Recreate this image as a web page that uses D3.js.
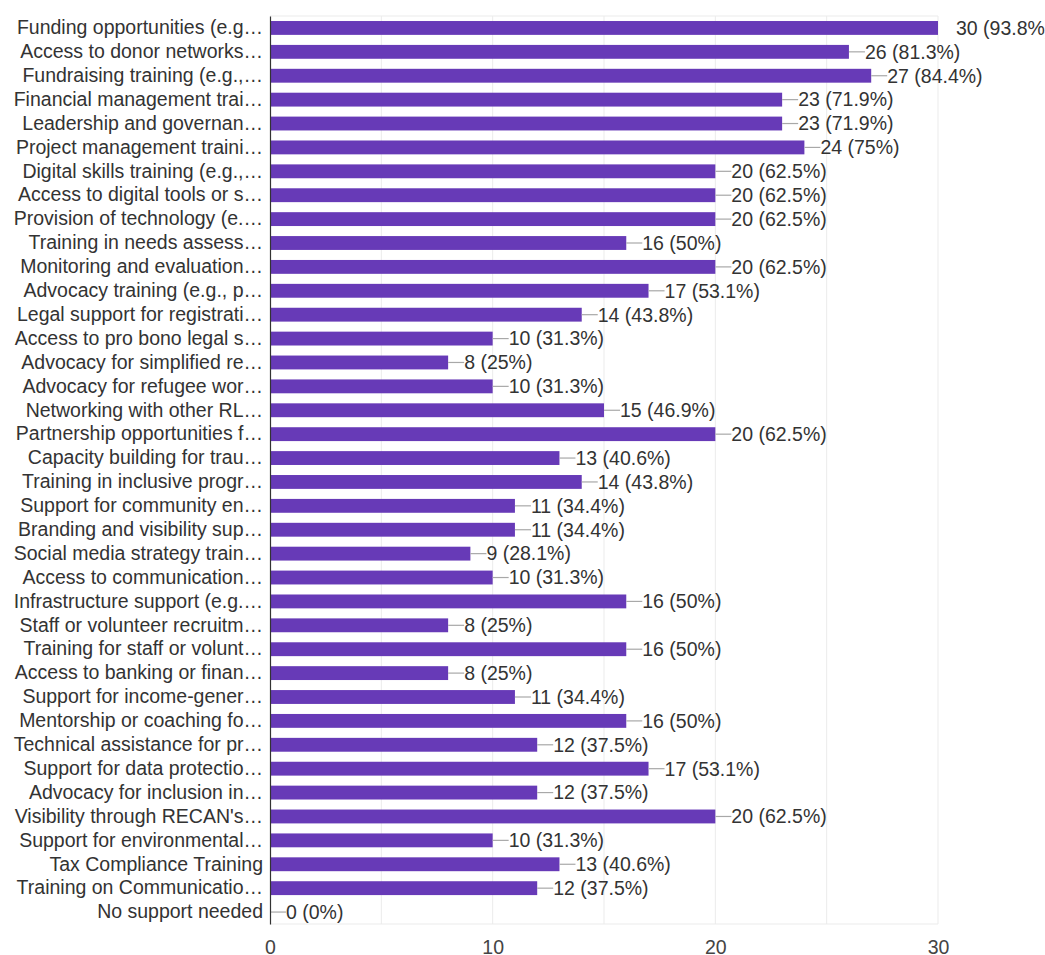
<!DOCTYPE html>
<html>
<head>
<meta charset="utf-8">
<script src="https://cdn.jsdelivr.net/npm/d3@7"></script>
<style>
  html, body { margin: 0; padding: 0; background: #fff; }
  svg { display: block; font-family: "Liberation Sans", Arial, sans-serif; }
</style>
</head>
<body>
<svg id="chart" width="1045" height="955"></svg>
<script>
// Survey answers: support types requested (labels truncated as displayed)
const categories = [
  "Funding opportunities (e.g…",
  "Access to donor networks…",
  "Fundraising training (e.g.,…",
  "Financial management trai…",
  "Leadership and governan…",
  "Project management traini…",
  "Digital skills training (e.g.,…",
  "Access to digital tools or s…",
  "Provision of technology (e.…",
  "Training in needs assess…",
  "Monitoring and evaluation…",
  "Advocacy training (e.g., p…",
  "Legal support for registrati…",
  "Access to pro bono legal s…",
  "Advocacy for simplified re…",
  "Advocacy for refugee wor…",
  "Networking with other RL…",
  "Partnership opportunities f…",
  "Capacity building for trau…",
  "Training in inclusive progr…",
  "Support for community en…",
  "Branding and visibility sup…",
  "Social media strategy train…",
  "Access to communication…",
  "Infrastructure support (e.g.…",
  "Staff or volunteer recruitm…",
  "Training for staff or volunt…",
  "Access to banking or finan…",
  "Support for income-gener…",
  "Mentorship or coaching fo…",
  "Technical assistance for pr…",
  "Support for data protectio…",
  "Advocacy for inclusion in…",
  "Visibility through RECAN's…",
  "Support for environmental…",
  "Tax Compliance Training",
  "Training on Communicatio…",
  "No support needed"
];

const counts = [
  30, 26, 27, 23, 23, 24, 20, 20, 20, 16,
  20, 17, 14, 10, 8, 10, 15, 20, 13, 14,
  11, 11, 9, 10, 16, 8, 16, 8, 11, 16,
  12, 17, 12, 20, 10, 13, 12, 0
];

const percents = [
  "93.8%", "81.3%", "84.4%", "71.9%", "71.9%", "75%", "62.5%", "62.5%", "62.5%", "50%",
  "62.5%", "53.1%", "43.8%", "31.3%", "25%", "31.3%", "46.9%", "62.5%", "40.6%", "43.8%",
  "34.4%", "34.4%", "28.1%", "31.3%", "50%", "25%", "50%", "25%", "34.4%", "50%",
  "37.5%", "53.1%", "37.5%", "62.5%", "31.3%", "40.6%", "37.5%", "0%"
];

const xTicks = [0, 10, 20, 30];
const xGrid = [5, 10, 15, 20, 25, 30];

const data = categories.map((c, i) => ({ cat: c, value: counts[i], pct: percents[i] }));

const fontSize = 19.5;
const textColor = "#333";

const svg = d3.select("#chart");
const margin = { top: 16, right: 107, bottom: 31, left: 270 };
const width = 1045 - margin.left - margin.right;
const height = 955 - margin.top - margin.bottom;

const g = svg.append("g").attr("transform", `translate(${margin.left},${margin.top})`);

const x = d3.scaleLinear().domain([0, 30]).range([0, width]);
const y = d3.scaleBand().domain(categories).range([0, height]).paddingInner(0.42).paddingOuter(0.21);

// Light gridlines and frame
g.append("g").selectAll("line").data(xGrid).join("line")
  .attr("x1", d => x(d)).attr("x2", d => x(d))
  .attr("y1", 0).attr("y2", height)
  .attr("stroke", "#ebebeb").attr("stroke-width", 1);
g.append("line").attr("x1", 0).attr("x2", width).attr("y1", 0).attr("y2", 0)
  .attr("stroke", "#ebebeb");
g.append("line").attr("x1", 0).attr("x2", width).attr("y1", height).attr("y2", height)
  .attr("stroke", "#ebebeb");

// Bars
g.append("g").selectAll("rect").data(data).join("rect")
  .attr("x", x(0))
  .attr("y", d => y(d.cat))
  .attr("width", d => x(d.value) - x(0))
  .attr("height", y.bandwidth())
  .attr("fill", "#673ab7");

// Value labels with leader lines
const maxVal = d3.max(counts);
const lbl = g.append("g").selectAll("g").data(data).join("g")
  .attr("transform", d => `translate(${x(d.value)},${y(d.cat) + y.bandwidth() / 2})`);
lbl.filter(d => d.value !== maxVal).append("line")
  .attr("x1", 0).attr("x2", 16).attr("y1", 0).attr("y2", 0)
  .attr("stroke", "#a8a8a8").attr("stroke-width", 1.2);
lbl.append("text")
  .attr("x", d => d.value === maxVal ? 18 : 16)
  .attr("dy", "0.35em")
  .attr("font-size", fontSize)
  .attr("fill", textColor)
  .text(d => `${d.value} (${d.pct})`);

// Category axis
const yAxis = g.append("g").call(d3.axisLeft(y).tickSize(0).tickPadding(7));
yAxis.select(".domain").attr("stroke", "#333").attr("stroke-width", 1.2);
yAxis.selectAll("text").attr("font-size", fontSize).attr("fill", textColor)
  .attr("font-family", "'Liberation Sans', Arial, sans-serif");

// Value axis
const xAxis = g.append("g").attr("transform", `translate(0,${height})`)
  .call(d3.axisBottom(x).tickValues(xTicks).tickSize(0).tickPadding(16));
xAxis.select(".domain").remove();
xAxis.selectAll("text").attr("font-size", fontSize).attr("fill", "#444")
  .attr("font-family", "'Liberation Sans', Arial, sans-serif");
</script>
</body>
</html>
